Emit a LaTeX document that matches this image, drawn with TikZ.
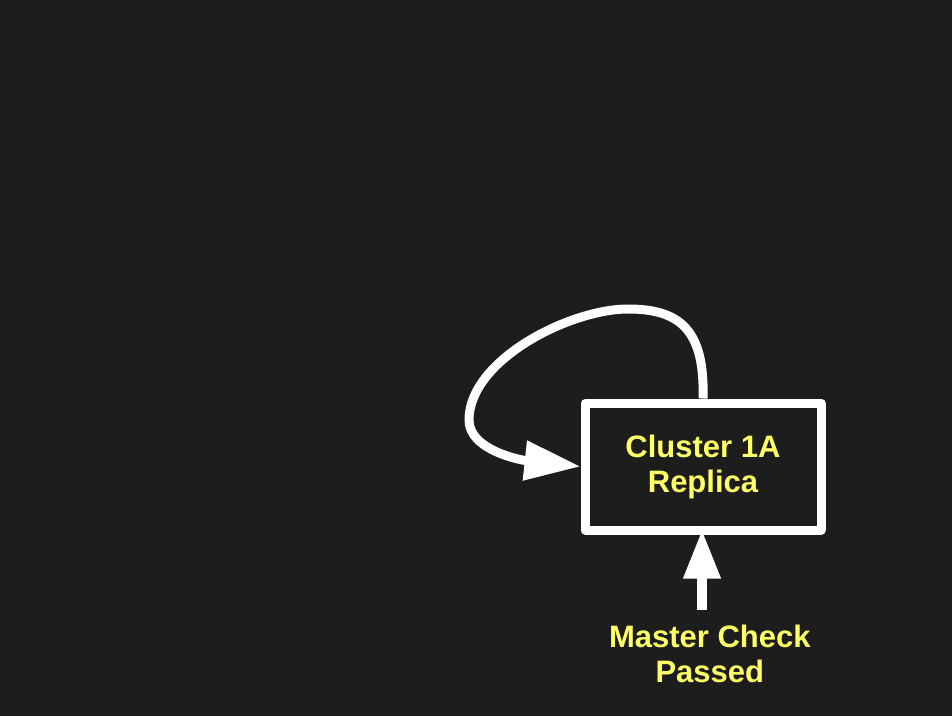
\documentclass[tikz,border=0pt]{standalone}
\usepackage{fontspec}
\setmainfont{Liberation Sans}
\usetikzlibrary{arrows.meta}
\definecolor{bgdark}{HTML}{1D1D1D}
\definecolor{lblyellow}{HTML}{FFFF66}
\begin{document}
\begin{tikzpicture}[
		x=1pt, y=-1pt,
		box/.style={draw=white, line width=9pt, line join=round, minimum width=236pt,
				minimum height=127pt, inner sep=0pt},
		lbl/.style={text=lblyellow, font=\bfseries\fontsize{31}{35}\selectfont, align=center},
		flow/.style={draw=white, line width=9pt}
	]
	\fill[bgdark] (0,0) rectangle (952,716);
	\useasboundingbox (0,0) rectangle (952,716);

	\node[box, lbl] (cl) at (703,466.5) {Cluster 1A\\Replica};
	\node[lbl, inner sep=0pt] (check) at (709.8,654) {Master Check\\Passed};

	% self loop
	\draw[flow, -{Triangle[length=56pt,width=38pt]}] (cl.north)
	.. controls (705,330) and (680,309) .. (628,309)
	.. controls (570,309) and (469,360) .. (469,420)
	.. controls (469,450) and (520,460) .. (cl.west);

	% entry arrow
	\coordinate (src) at (702,610);
	\draw[flow, line width=10pt, shorten >=-5pt, -{Triangle[length=49pt,width=35pt]}] (src) -- (src |- cl.south);
\end{tikzpicture}
\end{document}
